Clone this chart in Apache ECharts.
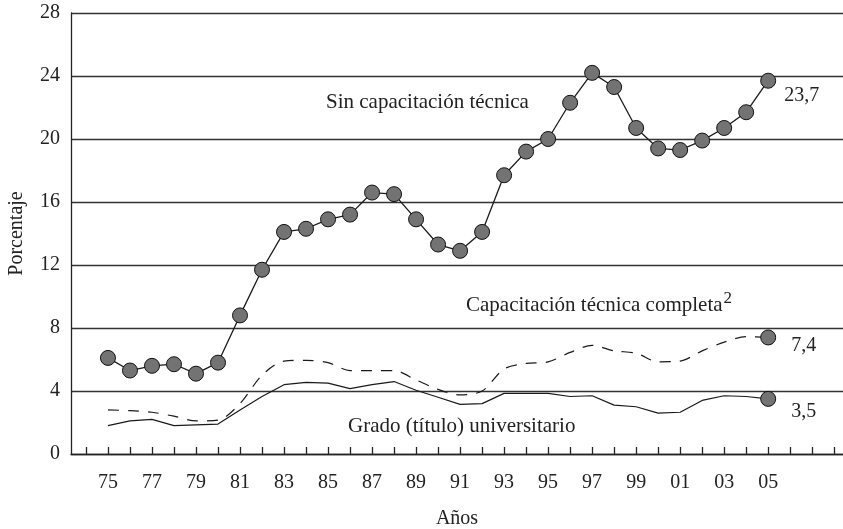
<!DOCTYPE html>
<html>
<head>
<meta charset="utf-8">
<script src="https://cdn.jsdelivr.net/npm/echarts@6/dist/echarts.min.js"></script>
<style>
  html, body { margin: 0; padding: 0; background: #fff; }
  #chart { width: 843px; height: 529px; }
</style>
</head>
<body>
<div id="chart"></div>
<script>
// años 1975-2005
const years = [1975, 1976, 1977, 1978, 1979, 1980, 1981, 1982, 1983, 1984, 1985, 1986, 1987, 1988, 1989, 1990,
  1991, 1992, 1993, 1994, 1995, 1996, 1997, 1998, 1999, 2000, 2001, 2002, 2003, 2004, 2005]

const sinCapacitacion = [6.1, 5.3, 5.6, 5.7, 5.1, 5.8, 8.8, 11.7, 14.1, 14.3, 14.9, 15.2, 16.6, 16.5, 14.9, 13.3,
  12.9, 14.1, 17.7, 19.2, 20.0, 22.3, 24.2, 23.3, 20.7, 19.4, 19.3, 19.9, 20.7, 21.7, 23.7]

const capacitacionCompleta = [2.8, 2.75, 2.65, 2.4, 2.1, 2.15, 3.2, 5.0, 5.9, 5.95, 5.8, 5.3, 5.3, 5.3, 4.7, 4.1,
  3.75, 4.0, 5.4, 5.75, 5.85, 6.45, 6.9, 6.55, 6.4, 5.85, 5.9, 6.55, 7.1, 7.45, 7.4]

const gradoUniversitario = [1.8, 2.1, 2.2, 1.8, 1.85, 1.9, 2.8, 3.65, 4.4, 4.55, 4.5, 4.15, 4.4, 4.6, 4.05, 3.6,
  3.15, 3.2, 3.85, 3.85, 3.85, 3.65, 3.7, 3.1, 3.0, 2.6, 2.65, 3.4, 3.7, 3.65, 3.5]

const yTicks = [0, 4, 8, 12, 16, 20, 24, 28]
const tickYears = [1974, 1975, 1976, 1977, 1978, 1979, 1980, 1981, 1982, 1983, 1984, 1985, 1986, 1987, 1988, 1989,
  1990, 1991, 1992, 1993, 1994, 1995, 1996, 1997, 1998, 1999, 2000, 2001, 2002, 2003, 2004, 2005, 2006, 2007, 2008]
const labelYears = [1975, 1977, 1979, 1981, 1983, 1985, 1987, 1989, 1991, 1993, 1995, 1997, 1999, 2001, 2003, 2005]

const FONT = '"Liberation Serif", "DejaVu Serif", serif'
const INK = '#222'
const DOT = '#737373'

const fmt = (v) => String(v).replace('.', ',')

// solo el último punto lleva marcador y etiqueta
const buildData = (vals, allDots, labelOpt) => vals.map((v, i) => {
  const last = i === vals.length - 1
  const item = { value: [years[i], v] }
  if (!allDots && !last) item.symbol = 'none'
  if (last) {
    item.symbol = 'circle'
    item.label = {
      show: true,
      position: 'right',
      distance: labelOpt.distance,
      offset: [0, labelOpt.dy],
      formatter: fmt(v),
      fontFamily: FONT,
      fontSize: 20,
      color: INK,
    }
  }
  return item
})

const dotStyle = { color: DOT, borderColor: '#111', borderWidth: 1 }

const chart = echarts.init(document.getElementById('chart'))

chart.setOption({
  backgroundColor: '#fff',
  animation: false,
  grid: { left: 71, right: 0, top: 13, bottom: 75, outerBoundsMode: 'none', containLabel: false },
  xAxis: {
    type: 'value',
    min: 1973.32,
    max: 2008.4,
    name: 'Años',
    nameLocation: 'middle',
    nameGap: 55,
    nameTextStyle: { fontFamily: FONT, fontSize: 20, color: INK },
    axisLine: { show: true, lineStyle: { color: INK, width: 1.3 } },
    axisTick: {
      show: true,
      inside: true,
      length: 7,
      customValues: tickYears,
      lineStyle: { color: INK, width: 1.3 },
    },
    axisLabel: {
      customValues: labelYears,
      formatter: (v) => String(Math.round(v)).slice(2),
      margin: 19,
      fontFamily: FONT,
      fontSize: 20,
      color: INK,
    },
    splitLine: { show: false },
  },
  yAxis: {
    type: 'value',
    min: yTicks[0],
    max: yTicks[yTicks.length - 1],
    interval: 4,
    name: 'Porcentaje',
    nameLocation: 'middle',
    nameGap: 44,
    nameTextStyle: { fontFamily: FONT, fontSize: 20, color: INK },
    axisLine: { show: true, lineStyle: { color: INK, width: 1.3 } },
    axisTick: { show: false },
    axisLabel: { margin: 11, fontFamily: FONT, fontSize: 20, color: INK },
    splitLine: { show: true, lineStyle: { color: '#333', width: 1.4 } },
  },
  graphic: [
    {
      type: 'text',
      left: 326,
      top: 92,
      style: { text: 'Sin capacitación técnica', font: '21px ' + FONT, fill: INK },
    },
    {
      type: 'text',
      left: 466,
      top: 290,
      style: {
        text: '{a|Capacitación técnica completa}{s|2}',
        rich: {
          a: { font: '21px ' + FONT, fill: INK, padding: [5, 1, 0, 0] },
          s: { font: '17px ' + FONT, fill: INK, verticalAlign: 'top', padding: [0, 0, 6, 0] },
        },
      },
    },
    {
      type: 'text',
      left: 348,
      top: 416,
      style: { text: 'Grado (título) universitario', font: '21px ' + FONT, fill: INK },
    },
  ],
  series: [
    {
      name: 'Sin capacitación técnica',
      type: 'line',
      data: buildData(sinCapacitacion, true, { distance: 8, dy: 15 }),
      symbol: 'circle',
      symbolSize: 15,
      itemStyle: dotStyle,
      lineStyle: { color: '#1a1a1a', width: 1.3 },
      z: 3,
    },
    {
      name: 'Capacitación técnica completa',
      type: 'line',
      smooth: 0.3,
      data: buildData(capacitacionCompleta, false, { distance: 15, dy: 8 }),
      symbolSize: 15,
      itemStyle: dotStyle,
      lineStyle: { color: '#1a1a1a', width: 1.2, type: [11, 9] },
    },
    {
      name: 'Grado (título) universitario',
      type: 'line',
      data: buildData(gradoUniversitario, false, { distance: 15, dy: 13 }),
      symbolSize: 15,
      itemStyle: dotStyle,
      lineStyle: { color: '#1a1a1a', width: 1.2 },
    },
  ],
})
</script>
</body>
</html>
